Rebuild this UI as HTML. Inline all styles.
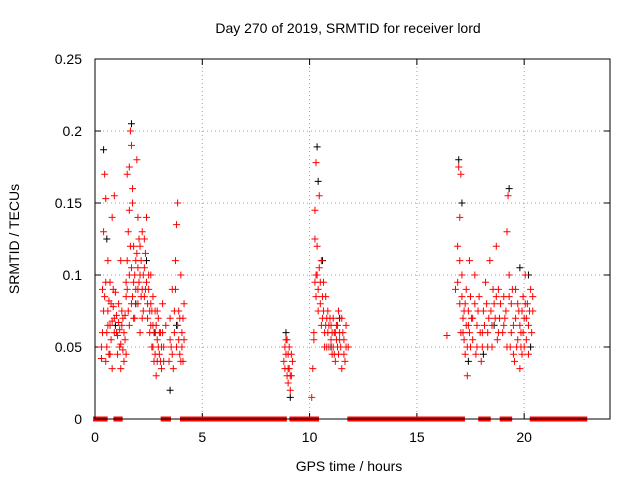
<!DOCTYPE html>
<html><head><meta charset="utf-8"><style>
body{margin:0;background:#fff}
svg{display:block;font-family:"Liberation Sans",sans-serif}
</style></head><body>
<svg id="chart" width="640" height="480" viewBox="0 0 640 480" xmlns="http://www.w3.org/2000/svg">
<rect width="640" height="480" fill="#fff"/>
<text x="348" y="33" font-size="14" text-anchor="middle">Day 270 of 2019, SRMTID for receiver lord</text>
<text x="349" y="471" font-size="14" text-anchor="middle">GPS time / hours</text>
<text x="19" y="239" font-size="14" text-anchor="middle" transform="rotate(-90 19 239)">SRMTID / TECUs</text>
<g id="grid"></g><g id="ticks"></g><g id="marks"></g>
<rect x="95" y="59" width="515" height="360" fill="none" stroke="#000" stroke-width="1"/>
</svg>
<script>
const xTicks=[0,5,10,15,20];
const yTicks=[0,0.05,0.1,0.15,0.2,0.25];
const yTickLabels=["0","0.05","0.1","0.15","0.2","0.25"];
const zeroStart=[0.05,1.0,3.2,4.1,9.2,11.9,18.0,19.0,20.4];
const zeroEnd=[0.45,1.15,3.4,8.8,10.3,17.1,18.3,19.3,22.8];
const redT=[0.3,0.35,0.4,0.45,0.5,0.5,0.55,0.6,0.6,0.65,0.7,0.7,0.75,0.8,0.8,0.85,0.9,0.9,1.0,1.05,1.1,1.15,1.2,1.2,1.25,1.3,1.35,1.4,
1.5,1.5,1.55,1.6,1.6,1.65,1.7,1.7,1.75,1.8,1.8,1.85,1.9,1.95,2.0,2.0,2.05,2.1,2.1,2.15,2.2,2.25,2.3,2.35,2.4,2.45,2.5,2.55,
2.6,2.65,2.7,2.75,2.8,2.85,2.9,2.95,3.0,3.05,3.1,3.15,3.2,3.3,
3.45,3.5,3.55,3.6,3.65,3.7,3.75,3.8,3.85,3.9,3.95,4.0,4.05,4.1,4.15,
8.8,8.85,8.9,8.95,9.0,9.0,9.05,9.1,9.15,9.2,
10.1,10.15,10.2,10.25,10.3,10.3,10.35,10.4,10.45,10.5,10.55,10.6,10.65,10.7,10.75,10.8,10.85,10.9,11.0,11.05,11.1,11.15,11.2,11.25,11.3,11.35,11.4,11.5,11.55,11.6,11.7,11.8,
16.4,16.8,16.9,16.95,17.0,17.0,17.05,17.1,17.15,17.2,17.25,17.3,17.35,17.4,17.45,17.5,
17.6,17.7,17.75,17.8,17.9,18.0,18.05,18.1,18.2,18.3,18.35,18.4,18.5,18.6,18.7,18.75,18.8,18.85,
19.0,19.05,19.1,19.2,19.25,19.3,19.35,19.4,19.5,19.55,19.6,19.7,19.75,19.8,19.85,19.9,19.95,20.0,20.05,20.1,20.15,20.2,20.3,20.4,
0.3,0.35,0.4,0.45,0.5,0.55,0.6,0.65,0.7,0.75,0.8,0.85,0.9,0.95,1.0,1.05,1.1,1.15,1.2,1.25,1.3,1.35,1.4,1.45,1.45,
1.45,1.5,1.55,1.6,1.65,1.7,1.75,1.8,1.85,1.9,1.95,2.0,2.0,2.05,2.1,2.15,2.2,2.2,2.25,2.3,2.35,2.4,2.45,2.5,2.55,2.6,1.75,1.6,2.3,
2.6,2.65,2.7,2.75,2.8,2.85,2.9,2.95,3.0,3.05,3.1,3.15,3.2,2.7,2.9,
3.5,3.6,3.7,3.8,3.85,3.9,3.95,4.0,4.05,4.1,3.75,4.15,
8.85,8.9,9.0,9.05,9.1,9.15,8.95,
10.25,10.3,10.35,10.4,10.45,10.5,10.55,10.6,10.65,10.7,10.75,10.8,10.85,10.9,10.95,11.0,11.05,11.1,11.15,11.2,11.25,11.3,11.35,11.4,11.45,11.5,11.6,11.65,11.7,10.25,10.2,
16.9,17.0,17.05,17.1,17.15,17.2,17.25,17.3,17.35,17.4,17.45,17.5,17.55,
17.6,17.7,17.8,17.85,17.95,18.05,18.15,18.25,18.3,18.45,18.5,18.55,18.65,18.7,18.8,18.9,
19.05,19.15,19.2,19.3,19.4,19.45,19.5,19.6,19.65,19.7,19.8,19.85,19.9,19.95,20.0,20.05,20.1,20.2,20.25,20.35,20.4];
const redV=[.05,.09,.13,.17,.153,.04,.06,.075,.11,.045,.095,.065,.08,.14,.035,.09,.155,.07,.06,.045,.08,.05,.035,.11,.065,.07,.04,.055,
.17,.09,.13,.175,.1,.2,.19,.08,.15,.12,.095,.07,.11,.18,.14,.09,.125,.1,.06,.085,.13,.075,.105,.09,.14,.07,.1,.06,
.08,.05,.065,.04,.075,.03,.055,.07,.045,.06,.035,.08,.05,.065,
.04,.07,.05,.09,.035,.06,.11,.135,.15,.075,.045,.1,.06,.04,.08,
.04,.05,.055,.03,.045,.025,.035,.02,.03,.04,
.015,.035,.06,.145,.178,.1,.12,.09,.155,.08,.11,.07,.095,.06,.085,.05,.075,.065,.055,.045,.07,.06,.04,.065,.05,.075,.055,.035,.06,.045,.065,.05,
.058,.09,.12,.175,.14,.08,.17,.1,.06,.075,.045,.09,.03,.065,.11,.05,
.07,.1,.045,.065,.085,.04,.06,.075,.095,.05,.07,.11,.065,.08,.12,.055,.09,.07,
.06,.085,.07,.13,.155,.1,.05,.08,.065,.04,.09,.055,.075,.035,.06,.045,.085,.07,.1,.055,.08,.065,.09,.075,
.042,.06,.075,.085,.095,.05,.065,.082,.045,.055,.068,.078,.06,.088,.072,.058,.067,.062,.052,.075,.048,.06,.072,.045,.085,
.095,.11,.075,.065,.12,.105,.085,.07,.1,.09,.115,.08,.105,.095,.12,.11,.09,.07,.1,.085,.115,.095,.08,.09,.075,.1,.16,.145,.125,
.065,.075,.05,.06,.045,.065,.04,.05,.06,.04,.05,.06,.04,.085,.075,
.055,.045,.075,.05,.065,.055,.07,.04,.05,.07,.09,.055,
.035,.045,.035,.05,.03,.045,.055,
.095,.085,.1,.075,.105,.095,.065,.085,.075,.05,.065,.07,.06,.05,.07,.065,.06,.05,.045,.06,.055,.065,.045,.06,.05,.07,.055,.04,.05,.125,.055,
.095,.11,.06,.085,.07,.055,.08,.065,.05,.075,.06,.085,.07,
.055,.08,.05,.075,.06,.05,.065,.08,.06,.075,.05,.09,.07,.085,.06,.08,
.065,.075,.05,.085,.06,.09,.045,.07,.05,.08,.065,.05,.075,.06,.05,.08,.07,.045,.075,.06,.085];
const blackT=[0.4,0.55,0.95,1.7,1.9,2.4,2.8,3.5,3.8,8.9,9.1,10.35,10.4,10.6,11.0,11.4,16.95,17.1,17.4,18.1,18.6,19.3,19.8,20.2,20.3];
const blackV=[.187,.125,.065,.205,.08,.11,.06,.02,.065,.06,.015,.189,.165,.11,.05,.07,.18,.15,.04,.045,.065,.16,.105,.1,.05];

const NS="http://www.w3.org/2000/svg";
const X0=95,X1=610,Y0=419,Y1=59;
const sx=t=>X0+t/24*(X1-X0);
const sy=v=>Y0-v/0.25*(Y0-Y1);
function mk(tag,attrs,parent){const e=document.createElementNS(NS,tag);for(const k in attrs)e.setAttribute(k,attrs[k]);parent.appendChild(e);return e;}
const grid=document.getElementById('grid'),ticks=document.getElementById('ticks'),marks=document.getElementById('marks');
xTicks.forEach(t=>{
  const x=sx(t);
  if(t>0){const g=mk('line',{x1:x,x2:x,y1:Y1,y2:Y0,stroke:'#a0a0a0','stroke-dasharray':'1,3'},grid);
  
  }
  mk('line',{x1:x,x2:x,y1:Y0,y2:Y0-6,stroke:'#000'},ticks);
  mk('line',{x1:x,x2:x,y1:Y1,y2:Y1+6,stroke:'#000'},ticks);
  const l=mk('text',{x:x,y:Y0+23,'font-size':14,'text-anchor':'middle'},ticks);
  l.textContent=String(t);
  
  
});
yTicks.forEach((v,i)=>{
  const y=sy(v);
  if(v>0&&v<0.25){const g=mk('line',{x1:X0,x2:X1,y1:y,y2:y,stroke:'#a0a0a0','stroke-dasharray':'1,3'},grid);
  
  }
  mk('line',{x1:X0,x2:X0+6,y1:y,y2:y,stroke:'#000'},ticks);
  mk('line',{x1:X1,x2:X1-6,y1:y,y2:y,stroke:'#000'},ticks);
  const l=mk('text',{x:82,y:y+5,'font-size':14,'text-anchor':'end'},ticks);
  l.textContent=yTickLabels[i];
  
  
});
zeroStart.forEach((s,i)=>{
  const r=mk('rect',{x:sx(s)-3,y:Y0-2.5,width:sx(zeroEnd[i])-sx(s)+6,height:5,fill:'#f00'},marks);
  
  
});
function plus(t,v,c,name){
  const x=sx(t),y=sy(v);
  const p=mk('path',{d:`M${x-3.5},${y}H${x+3.5}M${x},${y-3.5}V${y+3.5}`,stroke:c,'stroke-width':1,fill:'none'},marks);
  
  
}
blackT.forEach((t,i)=>plus(t,blackV[i],'#000','black-point'));
redT.forEach((t,i)=>plus(t,redV[i],'#f00','red-point'));
</script>
</body></html>
